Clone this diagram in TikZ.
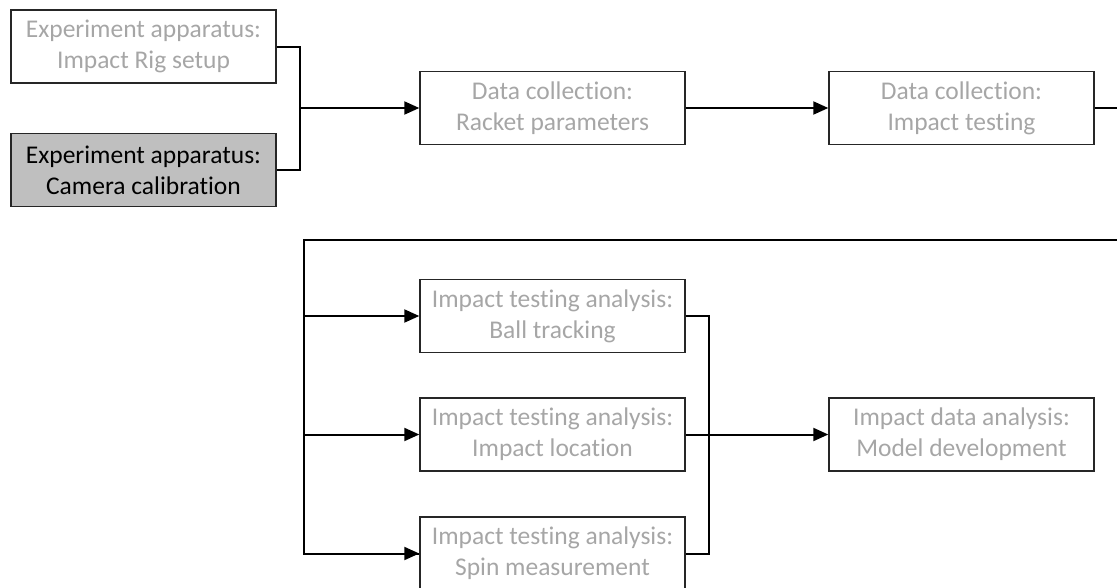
\documentclass[tikz,border=0pt]{standalone}
\usepackage{fontspec}
\setmainfont[Ligatures={NoCommon,NoContextual},Contextuals=NoAlternate]{Carlito}
\usetikzlibrary{arrows.meta}
\definecolor{txtgray}{HTML}{A6A6A6}
\definecolor{boxfill}{HTML}{BFBFBF}
\tikzset{
  stepbox/.style={draw=black!85, line width=1.4pt, minimum width=265pt, minimum height=73pt, inner sep=0pt, align=center, text=txtgray, font=\fontsize{25.5pt}{31pt}\selectfont},
  hilite/.style={fill=boxfill, text=black},
  conn/.style={draw=black, line width=2pt},
  arr/.style={conn, -{Triangle[length=15pt,width=13pt]}}
}
\begin{document}
\begin{tikzpicture}[x=1pt,y=-1pt]
\useasboundingbox (0,0) rectangle (1117,587);
\clip (0,0) rectangle (1117,587);
\node[stepbox] (A) at (143.5,46.5) {Experiment apparatus:\\Impact Rig setup};
\node[stepbox,hilite] (B) at (143.5,170) {Experiment apparatus:\\Camera calibration};
\node[stepbox] (C) at (552.5,108) {Data collection:\\Racket parameters};
\node[stepbox] (D) at (961.5,108) {Data collection:\\Impact testing};
\node[stepbox] (E) at (552.5,316) {Impact testing analysis:\\Ball tracking};
\node[stepbox] (F) at (552.5,434.5) {Impact testing analysis:\\Impact location};
\node[stepbox] (G) at (552.5,553.5) {Impact testing analysis:\\Spin measurement};
\node[stepbox] (H) at (961.5,434.5) {Impact data analysis:\\Model development};
\coordinate (j1) at (300,108);
\coordinate (r1) at (1130,108);
\coordinate (r2) at (1130,240);
\coordinate (l2) at (304,240);
\coordinate (m1) at (709,434.5);
\draw[conn] (A.east) -| (j1) |- (B.east);
\draw[arr] (j1) -- (C.west);
\draw[arr] (C.east) -- (D.west);
\draw[conn] (D.east) -- (r1) -- (r2) -- (l2) |- (G.west);
\draw[arr] (l2) |- (E.west);
\draw[arr] (l2) |- (F.west);
\draw[arr] (l2) |- (G.west);
\draw[conn] (E.east) -| (m1) |- (G.east);
\draw[arr] (F.east) -- (H.west);
\end{tikzpicture}
\end{document}
